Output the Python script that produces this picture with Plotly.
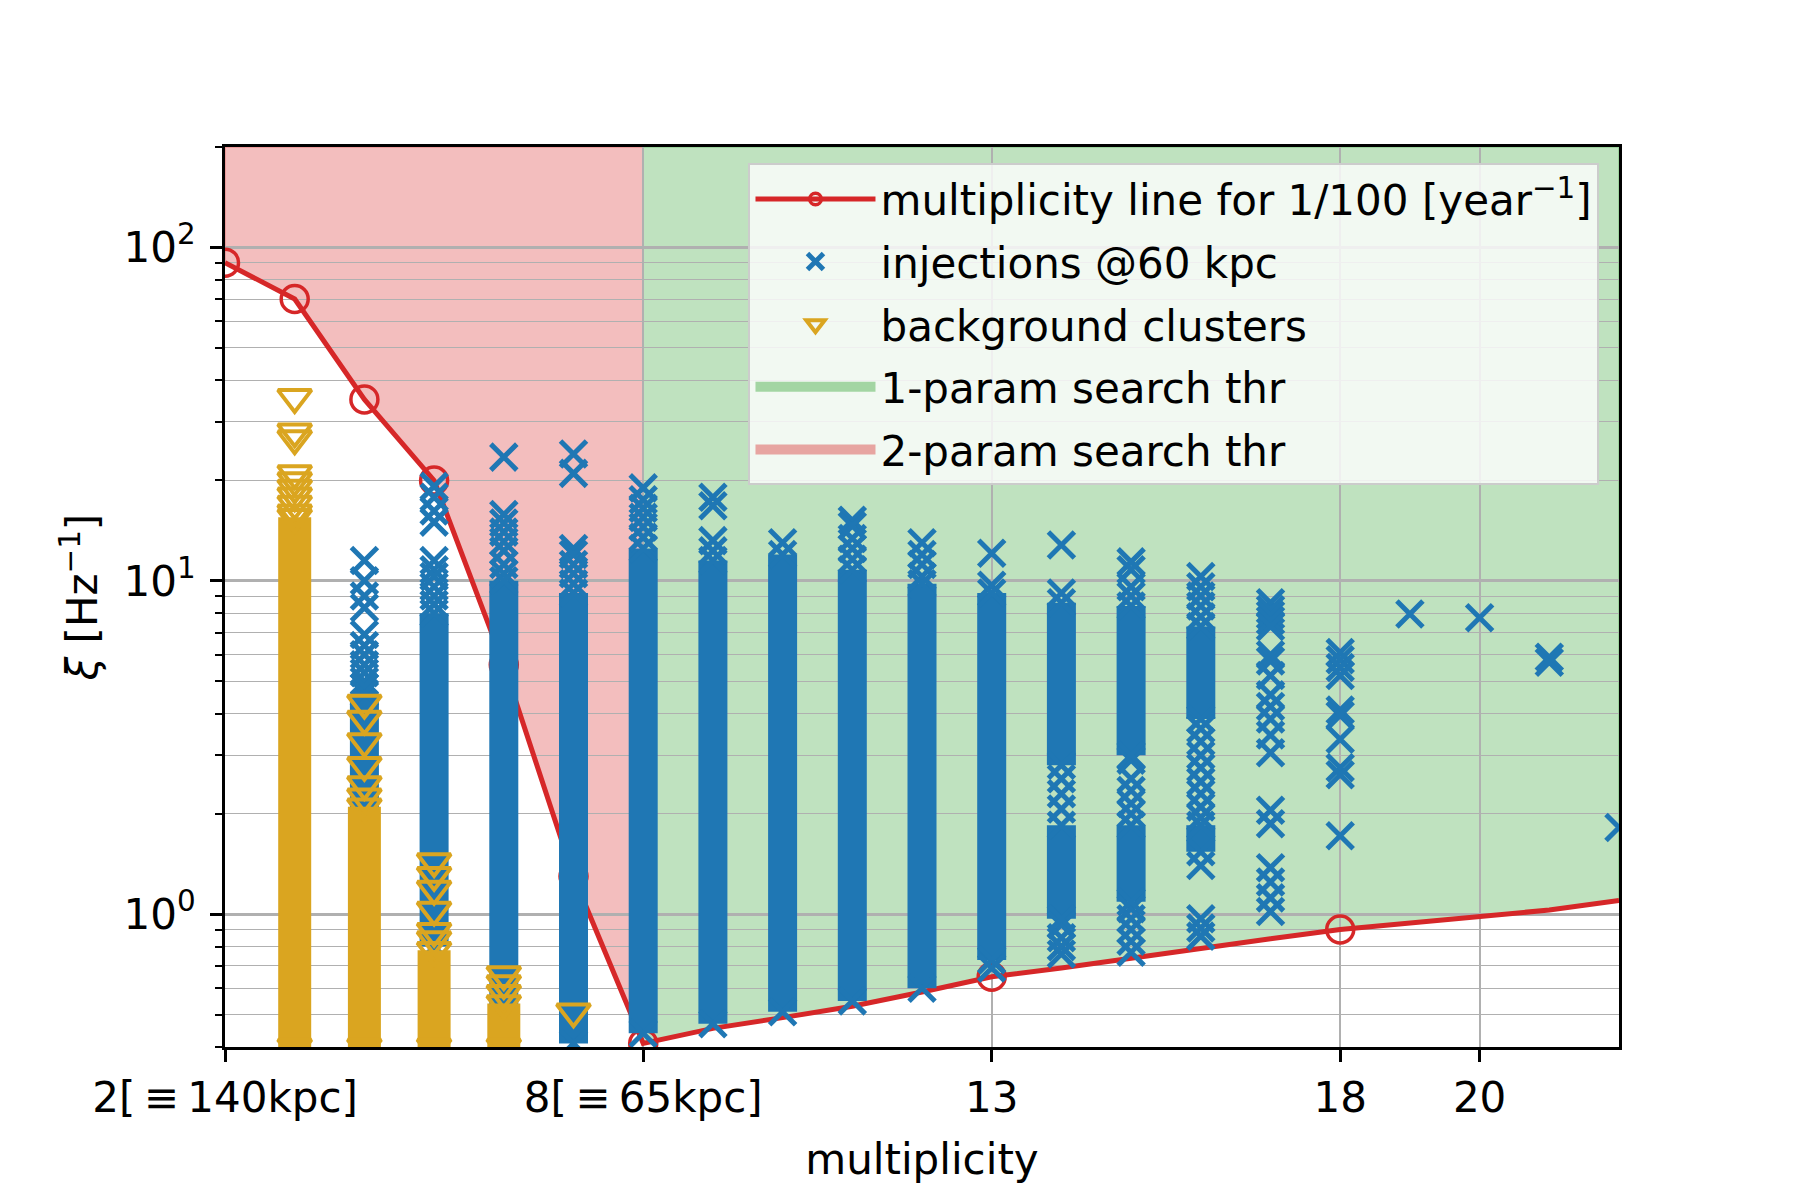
import numpy as np
import plotly.graph_objects as go

# red threshold line (xi per multiplicity for a 1/100 per year false alarm rate)
mult = list(range(2, 23))
thr_line = [90, 70, 35, 20, 5.6, 1.3, 0.41, 0.455, 0.49, 0.53, 0.585, 0.65,
            0.69, 0.74, 0.79, 0.845, 0.9, 0.94, 0.98, 1.03, 1.1]
thr_marked = [2, 3, 4, 5, 6, 7, 8, 13, 18]
switch_mult = 8  # 2-param search below, 1-param search above

# injections @60 kpc: solid runs of overlapping markers (lo, hi)
inj_run_m = [4, 5, 6, 7, 8, 9, 10, 11, 12, 13, 14, 14, 15, 15, 16, 16]
inj_run_lo = [2.0, 0.8, 0.41, 0.41, 0.44, 0.47, 0.51, 0.55, 0.6, 0.73,
              2.8, 0.97, 3.0, 1.09, 3.85, 1.54]
inj_run_hi = [4.6, 8.0, 10.0, 9.2, 12.5, 11.5, 12.0, 10.8, 9.8, 9.2,
              8.6, 1.85, 8.4, 1.85, 7.3, 1.85]

# injections @60 kpc: markers that stand apart
inj_cols = [4, 5, 6, 7, 8, 9, 10, 11, 12, 13, 14, 15, 16, 17, 18, 19, 20, 21, 22]
inj_sparse = [
    [11.5, 10.0, 9.0, 8.3, 6.9, 6.4, 6.0, 5.6, 5.3, 5.0, 4.8],
    [19.2, 17.8, 16.2, 15.0, 11.5, 10.8, 10.3, 9.6, 9.0, 8.5],
    [23.5, 15.8, 14.9, 14.0, 13.1, 12.3, 11.2, 10.5],
    [24.0, 21.0, 12.5, 12.0, 11.2, 10.5, 9.8],
    [19.0, 17.5, 16.5, 15.5, 14.5, 13.5],
    [17.8, 16.8, 13.2, 12.3],
    [13.0],
    [15.2, 14.6, 13.4, 12.5, 11.6],
    [13.0, 12.0, 11.2, 10.3],
    [12.1, 9.7, 0.69],
    [12.8, 9.2, 2.55, 2.3, 2.07, 0.93, 0.85, 0.8, 0.76],
    [11.4, 10.8, 9.6, 9.0, 2.9, 2.55, 2.35, 2.15, 2.0, 1.04, 0.97, 0.9, 0.83, 0.77],
    [10.3, 9.6, 9.0, 8.4, 7.8, 3.6, 3.3, 3.0, 2.75, 2.5, 2.3, 2.1, 1.95, 1.4,
     0.97, 0.91, 0.86],
    [8.6, 8.2, 7.9, 7.6, 7.3, 6.0, 5.75, 5.2, 4.55, 4.2, 3.85, 3.45, 3.05,
     2.05, 1.87, 1.38, 1.25, 1.12, 1.02],
    [6.1, 5.8, 5.5, 5.2, 4.1, 3.95, 3.35, 2.75, 2.62, 1.72],
    [7.95],
    [7.75],
    [5.9, 5.7],
    [1.82],
]

# background clusters: solid runs and separate triangles
bkg_run_m = [3, 4, 5, 6]
bkg_run_lo = [0.4, 0.4, 0.4, 0.4]
bkg_run_hi = [15.5, 2.1, 0.78, 0.54]
bkg_cols = [3, 4, 5, 6, 7]
bkg_sparse = [
    [35.5, 28.0, 26.7, 21.0, 20.0, 19.0, 18.0, 17.0, 16.0],
    [4.3, 3.85, 3.3, 2.8, 2.45, 2.25],
    [1.44, 1.31, 1.19, 1.03, 0.89, 0.84],
    [0.66, 0.62, 0.58],
    [0.51],
]

x_ticks = [2, 8, 13, 18, 20]
x_ticktext = ["2[\u2009\u2261\u2009140kpc]", "8[\u2009\u2261\u200965kpc]", "13", "18", "20"]
y_min, y_max = 0.4, 200

BLUE = "#1f77b4"
GOLD = "#daa520"
RED = "#d62728"
GREEN_A = "rgba(44,160,44,0.3)"
RED_A = "rgba(214,39,40,0.3)"
FONT = "DejaVu Sans"


def runs_xy(ms, los, his):
    xs, ys = [], []
    for m, lo, hi in zip(ms, los, his):
        xs += [m, m, None]
        ys += [lo, hi, None]
    return xs, ys


def sparse_xy(cols, vals, run_m, run_lo, run_hi):
    xs, ys = [], []
    for m, v in zip(cols, vals):
        xs += [m] * len(v)
        ys += v
    # ends of the solid runs also show the marker shape
    for m, lo, hi in zip(run_m, run_lo, run_hi):
        xs += [m, m]
        ys += [lo, hi]
    return xs, ys


def region_path(xs, ys, top):
    # polygon above the threshold line, in axis data units
    pts = list(zip(xs, ys)) + [(xs[-1], top), (xs[0], top)]
    return "M " + " L ".join(f"{x},{y}" for x, y in pts) + " Z"


fig = go.Figure()

# shaded search regions above the threshold line (below the grid, like matplotlib)
red_x = [m for m in mult if m <= switch_mult]
red_y = thr_line[:len(red_x)]
grn_x = [m for m in mult if m >= switch_mult]
grn_y = thr_line[len(red_x) - 1:]

fig.add_shape(type="path", path=region_path(grn_x, grn_y, y_max), xref="x", yref="y",
              fillcolor=GREEN_A, line=dict(color=GREEN_A, width=1.5), layer="below")
fig.add_shape(type="path", path=region_path(red_x, red_y, y_max), xref="x", yref="y",
              fillcolor=RED_A, line=dict(color=RED_A, width=1.5), layer="below")

fig.add_trace(go.Scatter(
    x=mult, y=thr_line, mode="lines+markers",
    line=dict(color=RED, width=5),
    marker=dict(symbol="circle-open", color=RED, opacity=1,
                size=[27 if m in thr_marked else 0 for m in mult],
                line=dict(color=RED, width=3.5)),
    name="multiplicity line for 1/100 [year<sup>\u22121</sup>]",
    legendrank=1, legendgroup="g1"))

bx, by = runs_xy(inj_run_m, inj_run_lo, inj_run_hi)
fig.add_trace(go.Scatter(x=bx, y=by, mode="lines", line=dict(color=BLUE, width=29),
                         showlegend=False, hoverinfo="skip"))
sx, sy = sparse_xy(inj_cols, inj_sparse, inj_run_m, inj_run_lo, inj_run_hi)
fig.add_trace(go.Scatter(
    x=sx, y=sy, mode="markers",
    marker=dict(symbol="x-thin", size=26, color=BLUE, line=dict(color=BLUE, width=5)),
    name="injections @60 kpc", legendrank=2, legendgroup="g2"))

gx, gy = runs_xy(bkg_run_m, bkg_run_lo, bkg_run_hi)
fig.add_trace(go.Scatter(x=gx, y=gy, mode="lines", line=dict(color=GOLD, width=33),
                         showlegend=False, hoverinfo="skip"))
tx, ty = sparse_xy(bkg_cols, bkg_sparse, bkg_run_m, bkg_run_lo, bkg_run_hi)
fig.add_trace(go.Scatter(
    x=tx, y=ty, mode="markers",
    marker=dict(symbol="triangle-down-open", size=29, color=GOLD,
                line=dict(color=GOLD, width=4)),
    name="background clusters", legendrank=3, legendgroup="g3"))

# legend entries for the shaded regions
fig.add_trace(go.Scatter(
    x=[None], y=[None], mode="lines", line=dict(color="rgba(44,160,44,0.4)", width=20),
    name="1-param search thr", legendrank=4, legendgroup="g4"))
fig.add_trace(go.Scatter(
    x=[None], y=[None], mode="lines", line=dict(color="rgba(214,39,40,0.4)", width=20),
    name="2-param search thr", legendrank=5, legendgroup="g5"))

minor_vals = [v * d for d in (0.1, 1, 10, 100) for v in range(2, 10)
              if y_min <= v * d <= y_max]

fig.update_layout(
    width=1800, height=1200,
    margin=dict(l=217, r=189, t=139, b=161),
    paper_bgcolor="white", plot_bgcolor="white",
    font=dict(family=FONT, size=42, color="black"),
    showlegend=True,
    legend=dict(x=0.986, y=0.982, xanchor="right", yanchor="top",
                bgcolor="rgba(255,255,255,0.8)", bordercolor="#cccccc",
                borderwidth=2, font=dict(size=42), itemwidth=120,
                traceorder="grouped", tracegroupgap=5),
)
fig.update_xaxes(
    range=[2, 22], tickvals=x_ticks, ticktext=x_ticktext,
    showgrid=True, gridcolor="#b0b0b0", gridwidth=2,
    showline=True, mirror=True, linecolor="black", linewidth=3,
    ticks="outside", ticklen=12, tickwidth=2.5, tickcolor="black",
    zeroline=False, tickfont=dict(size=42),
    title=dict(text="multiplicity", font=dict(size=42), standoff=24),
)
fig.update_yaxes(
    type="log", range=[np.log10(y_min), np.log10(y_max)],
    tickvals=[1, 10, 100],
    ticktext=["10<sup>0</sup>", "10<sup>1</sup>", "10<sup>2</sup>"],
    showgrid=True, gridcolor="#b0b0b0", gridwidth=2.5,
    showline=True, mirror=True, linecolor="black", linewidth=3,
    ticks="outside", ticklen=12, tickwidth=2.5, tickcolor="black",
    ticklabelstandoff=6,
    zeroline=False, tickfont=dict(size=42),
    minor=dict(tickmode="array", tickvals=minor_vals, ticks="outside",
               ticklen=7, tickwidth=2, tickcolor="black",
               showgrid=True, gridcolor="#b0b0b0", gridwidth=1),
    title=dict(text="<i>\u03be</i> [Hz<sup>\u22121</sup>]", font=dict(size=42), standoff=13),
)

fig.write_html("out.html")
